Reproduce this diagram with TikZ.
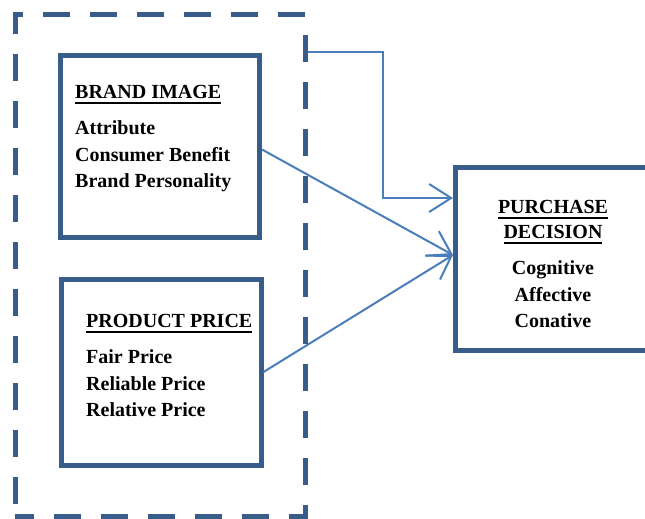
\documentclass[tikz,border=0pt]{standalone}
\usepackage{fontspec}
\setmainfont{Liberation Serif}
\usetikzlibrary{positioning,arrows.meta}

\definecolor{boxblue}{HTML}{385D8A}
\definecolor{linkblue}{HTML}{4A7EBB}

% heading with a heavy underline
\newcommand{\headline}[1]{\setbox0\hbox{#1}\rlap{\rule[-6.2pt]{\wd0}{2.4pt}}\box0}

\begin{document}
\begin{tikzpicture}[
  x=1pt, y=-1pt,
  frame/.style={
    draw=boxblue, line width=5pt,
    dash pattern=on 27pt off 20pt, dash phase=8pt,
    minimum width=290pt, minimum height=501pt, inner sep=0pt
  },
  varbox/.style={
    draw=boxblue, line width=5pt, inner sep=0pt
  },
  txt/.style={
    inner sep=0pt, font=\fontsize{20}{26.5}\selectfont\bfseries
  },
  link/.style={
    draw=linkblue, line width=2pt,
    -{Straight Barb[length=22pt, width=28pt, line width=2pt]}
  }
]
\useasboundingbox (0,0) rectangle (645,519);

% --- outer dashed frame ---
\node[frame] (frame) at (160,265.5) {};

% --- independent variables ---
\node[varbox, minimum width=199pt, minimum height=181pt] (brand) at (160,146.5) {};
\node[txt, anchor=north west, align=left] (brandtxt) at (75,84.6)
  {\headline{BRAND IMAGE}\\[10pt]
   Attribute\\
   Consumer Benefit\\
   Brand Personality};

\node[varbox, minimum width=200pt, minimum height=186pt] (price) at (161,372) {};
\node[txt, anchor=north west, align=left] (pricetxt) at (86,313.6)
  {\headline{PRODUCT PRICE}\\[10pt]
   Fair Price\\
   Reliable Price\\
   Relative Price};

% --- dependent variable ---
\node[varbox, minimum width=195pt, minimum height=183pt] (purchase) at (553,259) {};
\node[txt, anchor=north, align=center] (purchasetxt) at (553,199.6)
  {\headline{PURCHASE}\\[-1.5pt]
   \headline{DECISION}\\[10pt]
   Cognitive\\
   Affective\\
   Conative};

% --- connectors ---
\coordinate (framelink) at ([yshift=-40pt]frame.north east);
\coordinate (jointin) at ([yshift=61pt]purchase.west);
\coordinate (mainin) at ([yshift=4pt]purchase.west);

\draw[link] (framelink) -- ++(75,0) |- (jointin);
\draw[link] ([yshift=-3pt]brand.east) -- (mainin);
\draw[link] (price.east) -- (mainin);

\end{tikzpicture}
\end{document}
